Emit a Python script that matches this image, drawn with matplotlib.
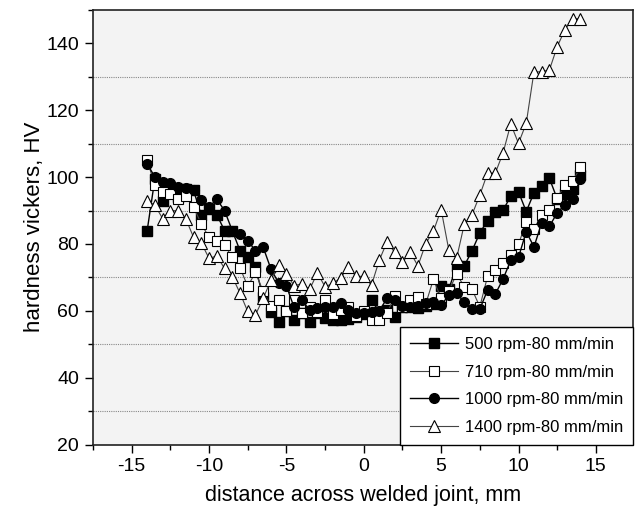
import matplotlib
matplotlib.use("Agg")
import matplotlib.pyplot as plt
from matplotlib.ticker import MultipleLocator

plt.rcParams['font.family'] = ['Liberation Sans', 'DejaVu Sans']
plt.rcParams['axes.unicode_minus'] = False

distance = [-14, -13.5, -13, -12.5, -12, -11.5, -11, -10.5, -10, -9.5, -9, -8.5, -8, -7.5,
            -7, -6.5, -6, -5.5, -5, -4.5, -4, -3.5, -3, -2.5, -2, -1.5, -1, -0.5, 0,
            0.5, 1, 1.5, 2, 2.5, 3, 3.5, 4, 4.5, 5, 5.5, 6, 6.5, 7, 7.5, 8, 8.5, 9,
            9.5, 10, 10.5, 11, 11.5, 12, 12.5, 13, 13.5, 14]

hv_500 = [84, 99.5, 93, 97, 94, 96.5, 96, 88.6, 90.5, 88.8, 84, 84, 78, 76,
          73, 64, 59.5, 56.8, 60, 57.2, 59.2, 56.8, 59.2, 57.8, 57.3, 57.3, 57.5, 58, 59,
          63.2, 59.7, 60.2, 58, 61, 61, 60.7, 61.5, 62, 67.3, 66.5, 73.5, 73.5, 78, 83.3,
          87, 89.6, 90.1, 94.3, 95.6, 89.7, 95.3, 97.3, 99.6, 93.5, 95, 96.5, 100.5]

hv_710 = [105, 97.6, 95.5, 95, 93.5, 94.3, 91, 86, 82, 80.8, 79.6, 76.1, 72.9, 67.3,
          71.5, 65.8, 61.5, 63.2, 60, 63.3, 59.2, 61, 59.6, 63.2, 59, 60.3, 61, 58.5, 60,
          57.2, 57.2, 59.2, 64.5, 61, 63.2, 64.2, 62, 69.4, 63.7, 66, 71, 67.2, 66.4, 61.2,
          70.3, 72.1, 74.2, 76.7, 79.9, 86.6, 84.6, 88.6, 90.2, 93.8, 97.6, 98.7, 103]

hv_1000 = [104, 100, 98.6, 98.3, 97, 96.6, 96, 93.3, 91, 93.4, 90, 84, 83, 81,
           78, 79, 72.5, 68.3, 67.4, 61, 63.2, 60.2, 60.7, 61, 61.2, 62.4, 60.2, 59.2, 59.4,
           59.7, 60, 63.7, 63.2, 61.4, 61.2, 61.4, 62.2, 62.7, 61.7, 64.7, 65.2, 62.6, 60.6,
           60.5, 66.2, 65, 69.5, 75.1, 76, 83.7, 79.1, 86.4, 85.3, 89.3, 91.7, 93.5, 99.5]

hv_1400 = [93, 91.6, 87.6, 90, 89.9, 87.5, 82, 80.3, 75.7, 76.4, 72.7, 70.2, 65.3, 59.8,
           58.8, 63.7, 69.2, 73.8, 71, 67.5, 68.1, 66.4, 71.3, 67.2, 68.2, 69.8, 73.2, 70.3,
           70.3, 67.7, 75.1, 80.6, 77.5, 74.5, 77.6, 73.4, 80.1, 83.8, 90.3, 78.1, 75.7, 86,
           88.8, 94.6, 101.2, 101.2, 107.2, 115.9, 110.1, 116.1, 131.5, 131.5, 132.1, 139,
           144.1, 147.4, 147.4]

labels = ["500 rpm-80 mm/min", "710 rpm-80 mm/min", "1000 rpm-80 mm/min", "1400 rpm-80 mm/min"]

fig = plt.figure(figsize=(6.4, 5.11), dpi=100)
ax = fig.add_axes([93/640, 1-444.5/511, (633-93)/640, (444.5-10)/511])
ax.set_facecolor('#f3f3f3')

ax.plot(distance, hv_500, color='black', lw=1.0, marker='s', ms=6.5,
        mfc='black', mec='black', label=labels[0], zorder=3)
ax.plot(distance, hv_710, color='#444444', lw=0.8, marker='s', ms=6.5,
        mfc='white', mec='black', mew=0.8, label=labels[1], zorder=3)
ax.plot(distance, hv_1000, color='black', lw=1.0, marker='o', ms=7,
        mfc='black', mec='black', label=labels[2], zorder=3)
ax.plot(distance, hv_1400, color='#444444', lw=0.8, marker='^', ms=8,
        mfc='white', mec='black', mew=0.8, label=labels[3], zorder=3)

ax.set_xlim(-17.5, 17.4)
ax.set_ylim(20, 150)
ax.xaxis.set_major_locator(MultipleLocator(5))
ax.xaxis.set_minor_locator(MultipleLocator(2.5))
ax.yaxis.set_major_locator(MultipleLocator(20))
ax.yaxis.set_minor_locator(MultipleLocator(10))
ax.grid(False)
for yv in [30, 50, 70, 90, 110, 130]:
    ax.axhline(yv, color='#888888', lw=0.8, ls=(0, (1, 1)), zorder=1)

ax.tick_params(axis='both', which='major', direction='out', length=6, width=1,
               labelsize=14, top=False, right=False, pad=4)
ax.tick_params(axis='both', which='minor', direction='out', length=3.5, width=1,
               top=False, right=False)
for sp in ax.spines.values():
    sp.set_linewidth(1.2)
    sp.set_color('#222222')

ax.set_xlabel("distance across welded joint, mm", fontsize=15.5, labelpad=7)
ax.set_ylabel("hardness vickers, HV", fontsize=16, labelpad=1)

leg = ax.legend(loc='lower right', bbox_to_anchor=(1.0, 0.0), fontsize=12,
                frameon=True, fancybox=False, edgecolor='black', framealpha=1,
                facecolor='white', handlelength=2.9, borderpad=0.6,
                labelspacing=0.75, handletextpad=0.4, borderaxespad=0)
leg.get_frame().set_linewidth(1.0)

fig.savefig("out.png", dpi=100)
